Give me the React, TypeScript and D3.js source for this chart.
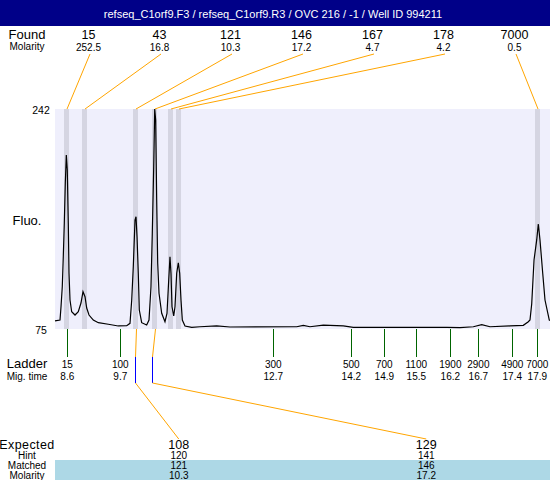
import React from "react";
import * as d3 from "d3";

const title = "refseq_C1orf9.F3 / refseq_C1orf9.R3 / OVC 216 / -1 / Well ID 994211";

// Found peaks
const foundSizes = ["15", "43", "121", "146", "167", "178", "7000"];
const foundMolarity = ["252.5", "16.8", "10.3", "17.2", "4.7", "4.2", "0.5"];
const foundTimes = [8.585, 8.941, 9.95, 10.326, 10.642, 10.801, 17.904];

// Ladder
const ladderSizes = ["15", "100", "300", "500", "700", "1100", "1900", "2900", "4900", "7000"];
const ladderTimes = [8.6, 9.649, 12.676, 14.22, 14.873, 15.506, 16.179, 16.733, 17.405, 17.9];
const ladderTimeLabels = ["8.6", "9.7", "12.7", "14.2", "14.9", "15.5", "16.2", "16.7", "17.4", "17.9"];

// Expected table
const expectedSizes = ["108", "129"];
const hintSizes = ["120", "141"];
const hintTimes = [9.946, 10.27];
const matchedSizes = ["121", "146"];
const matchedTimes = [9.95, 10.326];
const matchedMolarity = ["10.3", "17.2"];

// Fluorescence axis
const fluoMin = 75;
const fluoMax = 242;
const timeDomain = [8.357, 18.151];

// Electropherogram trace (migration time, fluorescence)
const traceTime = [
  8.357, 8.456, 8.476, 8.501, 8.521, 8.541, 8.561, 8.581, 8.6, 8.62, 8.634, 8.654, 8.687, 8.753,
  8.818, 8.871, 8.911, 8.951, 8.984, 9.03, 9.115, 9.214, 9.412, 9.609, 9.776, 9.841, 9.875, 9.906,
  9.94, 9.96, 9.98, 10.005, 10.025, 10.072, 10.171, 10.217, 10.256, 10.282, 10.31, 10.33, 10.349,
  10.369, 10.389, 10.415, 10.468, 10.533, 10.573, 10.607, 10.632, 10.652, 10.672, 10.706, 10.731,
  10.765, 10.797, 10.824, 10.85, 10.876, 10.929, 11.062, 11.226, 11.556, 11.82, 13.139, 13.27,
  13.402, 13.666, 14.061, 14.259, 16.107, 16.37, 16.634, 16.8, 16.964, 17.36, 17.623, 17.722,
  17.755, 17.789, 17.835, 17.888, 17.92, 17.953, 18.007, 18.052, 18.137, 18.151,
];
const traceFluo = [
  81.1, 81.8, 91.9, 107.1, 129.9, 155.5, 185.8, 207.1, 195.7, 155.5, 117.5, 97.0, 88.1, 85.6,
  88.1, 94.7, 103.3, 99.5, 90.9, 85.6, 81.8, 79.8, 78.6, 77.3, 77.5, 79.3, 97.0, 122.3,
  157.7, 160.2, 145.1, 117.3, 89.4, 79.8, 78.0, 81.8, 107.1, 147.6, 198.2, 242, 233.7,
  172.9, 124.9, 102.1, 86.9, 80.5, 86.9, 112.2, 129.9, 117.3, 91.9, 84.9, 91.9,
  117.3, 125.3, 117.3, 97.0, 81.8, 77.3, 76.3, 76.7, 77.3, 76.5, 76.7, 77.8,
  76.7, 78.0, 77.3, 76.3, 76.3, 76.0, 76.7, 78.3, 76.7, 77.3, 77.8, 80.5,
  81.8, 94.0, 127.4, 142.6, 154.7, 142.6, 117.3, 97.0, 81.8, 81.5,
];

const W = 550;
const H = 480;
const plotL = 55;
const plotR = 550;
const plotT = 109;
const plotB = 329;
const font = "Arial, 'Liberation Sans', sans-serif";

export default function App() {
  const x = d3.scaleLinear().domain(timeDomain).range([plotL, plotR]);
  const y = d3.scaleLinear().domain([fluoMin, fluoMax]).range([plotB, plotT]);
  const pts: [number, number][] = traceTime.map((t, i) => [t, traceFluo[i]]);
  const line = d3
    .line<[number, number]>()
    .x((d) => x(d[0]))
    .y((d) => y(d[1]));

  const foundColW = (W - 53) / foundSizes.length;
  const foundX = (i: number) => 53 + (i + 0.5) * foundColW;
  const expColW = (plotR - plotL) / expectedSizes.length;
  const expX = (i: number) => plotL + (i + 0.5) * expColW;

  return (
    <svg
      width={W}
      height={H}
      style={{ position: "absolute", left: 0, top: 0, display: "block" }}
      fontFamily={font}
    >
      <rect x={0} y={0} width={W} height={H} fill="#ffffff" />
      {/* Title bar */}
      <rect x={0} y={0} width={W} height={26} fill="#000088" />
      <text x={273} y={18} fill="#ffffff" fontSize={11} textAnchor="middle">
        {title}
      </text>

      {/* Found header */}
      <text x={27} y={39} fontSize={13} textAnchor="middle">Found</text>
      <text x={27} y={50} fontSize={10} textAnchor="middle">Molarity</text>
      {foundSizes.map((s, i) => (
        <g key={"f" + i}>
          <text x={foundX(i)} y={39} fontSize={12.5} textAnchor="middle">{s}</text>
          <text x={foundX(i)} y={50.5} fontSize={10} textAnchor="middle">{foundMolarity[i]}</text>
        </g>
      ))}

      {/* Plot area */}
      <rect x={plotL} y={plotT} width={plotR - plotL} height={plotB - plotT} fill="#efeffc" />
      {foundTimes.map((t, i) => (
        <rect key={"b" + i} x={x(t) - 2.5} y={plotT} width={5} height={plotB - plotT} fill="#d5d5e2" />
      ))}
      {foundTimes.map((t, i) => (
        <line
          key={"fl" + i}
          x1={foundX(i) + 1.5}
          y1={54}
          x2={x(t) + 0.5}
          y2={plotT}
          stroke="#ffa500"
          strokeWidth={1}
        />
      ))}
      <path d={line(pts) || ""} fill="none" stroke="#000000" strokeWidth={1.2} />

      {/* Y labels */}
      <text x={41} y={113.5} fontSize={10.5} textAnchor="middle">{fluoMax}</text>
      <text x={41} y={333.5} fontSize={10.5} textAnchor="middle">{fluoMin}</text>
      <text x={27} y={225} fontSize={13} textAnchor="middle">Fluo.</text>

      {/* Ladder */}
      {ladderTimes.map((t, i) => (
        <g key={"l" + i}>
          <line x1={Math.round(x(t)) + 0.5} x2={Math.round(x(t)) + 0.5} y1={plotB} y2={357} stroke="#006400" strokeWidth={1} />
          <text x={x(t)} y={367.5} fontSize={10} textAnchor="middle">{ladderSizes[i]}</text>
          <text x={x(t)} y={380} fontSize={10} textAnchor="middle">{ladderTimeLabels[i]}</text>
        </g>
      ))}
      <text x={27} y={367.5} fontSize={13} textAnchor="middle">Ladder</text>
      <text x={27} y={380} fontSize={10} textAnchor="middle">Mig. time</text>

      {/* Expected connectors */}
      {matchedTimes.map((t, i) => {
        const hx = Math.round(x(hintTimes[i])) + 0.5;
        return (
          <g key={"e" + i}>
            <polyline
              points={`${x(t) + 1},${plotB} ${hx},357`}
              fill="none"
              stroke="#ffa500"
              strokeWidth={1}
            />
            <line x1={hx} x2={hx} y1={357} y2={383} stroke="#0000ff" strokeWidth={1} />
            <line x1={hx} y1={383} x2={expX(i)} y2={439} stroke="#ffa500" strokeWidth={1} />
          </g>
        );
      })}

      {/* Expected table */}
      <rect x={plotL} y={460} width={plotR - plotL} height={H - 460} fill="#add8e6" />
      <text x={27} y={448.5} fontSize={12.5} letterSpacing={0.4} textAnchor="middle">Expected</text>
      <text x={27} y={458.5} fontSize={10} textAnchor="middle">Hint</text>
      <text x={27} y={469.3} fontSize={10} textAnchor="middle">Matched</text>
      <text x={27} y={478.7} fontSize={10} textAnchor="middle">Molarity</text>
      {expectedSizes.map((s, i) => (
        <g key={"x" + i}>
          <text x={expX(i)} y={449} fontSize={12.5} textAnchor="middle">{s}</text>
          <text x={expX(i)} y={458.5} fontSize={10} textAnchor="middle">{hintSizes[i]}</text>
          <text x={expX(i)} y={469.3} fontSize={10} textAnchor="middle">{matchedSizes[i]}</text>
          <text x={expX(i)} y={478.7} fontSize={10} textAnchor="middle">{matchedMolarity[i]}</text>
        </g>
      ))}
    </svg>
  );
}
